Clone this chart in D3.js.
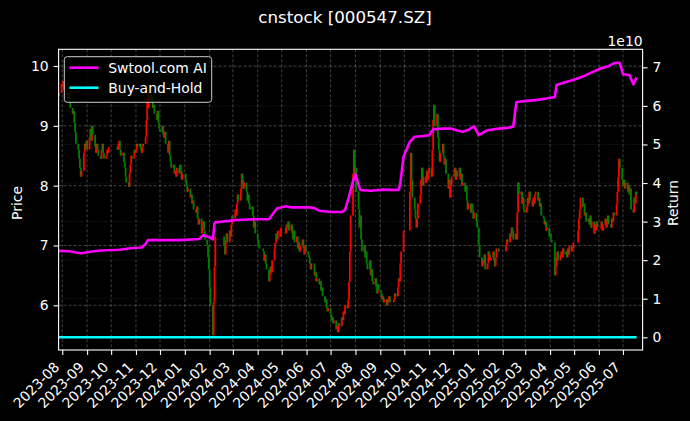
<!DOCTYPE html>
<html><head><meta charset="utf-8">
<script src="https://cdn.jsdelivr.net/npm/d3@7"></script>
<style>html,body{margin:0;padding:0;background:#000;} svg{display:block;}</style>
</head><body>
<svg id="chart" width="690" height="421"></svg>
<script>
// ---------------- DATA ----------------
const chartTitle = "cnstock [000547.SZ]";
const seriesNames = ["Swtool.com AI", "Buy-and-Hold"];
const axisLabels = ["Price", "Return"];
const firstDay = "2023-07-28", lastDay = "2025-07-18";
const holidays = [
  "2023-09-29","2023-10-02","2023-10-03","2023-10-04","2023-10-05","2023-10-06",
  "2024-01-01","2024-02-09","2024-02-12","2024-02-13","2024-02-14","2024-02-15","2024-02-16",
  "2024-04-04","2024-04-05","2024-05-01","2024-05-02","2024-05-03","2024-06-10",
  "2024-09-16","2024-09-17","2024-10-01","2024-10-02","2024-10-03","2024-10-04","2024-10-07",
  "2025-01-01","2025-01-28","2025-01-29","2025-01-30","2025-01-31","2025-02-03","2025-02-04",
  "2025-04-04","2025-05-01","2025-05-02","2025-05-05","2025-06-02"
];
const firstOpen = 9.50;
// daily closes, one trading day each
const closes = [
  // 2023-07
  9.55, 9.70,
  // 2023-08
  9.65, 9.75, 9.60, 9.55, 9.50, 9.45, 9.55, 9.40, 9.30, 9.20, 9.25, 9.05, 8.90, 8.70, 8.60, 8.45, 8.30, 8.15, 8.25, 8.55, 8.70, 8.60, 8.75,
  // 2023-09
  8.60, 8.80, 8.95, 8.75, 9.00, 8.85, 8.65, 8.55, 8.70, 8.60, 8.50, 8.45, 8.60, 8.70, 8.55, 8.45, 8.50, 8.60, 8.55, 8.65,
  // 2023-10
  8.60, 8.70, 8.75, 8.60, 8.50, 8.55, 8.40, 8.30, 8.15, 8.05, 7.98, 8.20, 8.35, 8.50, 8.45, 8.60, 8.55,
  // 2023-11
  8.60, 8.70, 8.65, 8.70, 8.60, 8.55, 8.65, 8.70, 8.80, 9.10, 9.45, 9.30, 9.55, 9.40, 9.50, 9.30, 9.35, 9.20, 9.10, 9.25, 9.05, 8.95,
  // 2023-12
  8.90, 9.00, 8.85, 8.80, 8.90, 8.70, 8.55, 8.75, 8.50, 8.40, 8.30, 8.35, 8.20, 8.25, 8.15, 8.30, 8.20, 8.35, 8.25, 8.10, 8.20,
  // 2024-01
  8.10, 8.00, 7.90, 7.95, 7.80, 7.85, 7.70, 7.75, 7.60, 7.55, 7.65, 7.45, 7.35, 7.45, 7.20, 7.30, 7.40, 7.25, 7.10, 7.00, 6.80, 6.60,
  // 2024-02
  6.30, 6.00, 5.50, 6.05, 6.65, 7.15, 7.00, 6.85, 7.10, 7.20, 7.05, 7.25, 7.15, 7.35, 7.50,
  // 2024-03
  7.45, 7.60, 7.50, 7.70, 7.85, 7.75, 7.95, 8.20, 8.10, 7.95, 8.05, 7.90, 7.75, 7.85, 7.70, 7.60, 7.65, 7.50, 7.30, 7.40, 7.20,
  // 2024-04
  7.10, 7.00, 6.95, 6.90, 6.75, 6.85, 6.70, 6.60, 6.40, 6.50, 6.65, 6.55, 6.75, 6.95, 7.05, 7.20, 7.10, 7.25, 7.15, 7.30,
  // 2024-05
  7.20, 7.35, 7.30, 7.40, 7.25, 7.35, 7.20, 7.10, 7.25, 7.05, 7.15, 6.95, 7.05, 6.90, 7.00, 7.10, 6.95, 6.85, 7.00, 6.90,
  // 2024-06
  6.85, 6.80, 6.70, 6.60, 6.70, 6.50, 6.55, 6.40, 6.45, 6.35, 6.40, 6.25, 6.30, 6.15, 6.05, 6.10, 5.95, 5.90, 5.95,
  // 2024-07
  5.85, 5.75, 5.80, 5.70, 5.75, 5.60, 5.65, 5.55, 5.70, 5.65, 5.80, 5.75, 5.90, 5.85, 6.00, 5.95, 6.10, 6.40, 6.90, 7.50, 8.20, 8.60, 8.10,
  // 2024-08
  8.30, 7.90, 7.60, 7.30, 7.50, 7.10, 6.90, 7.00, 6.80, 6.90, 6.70, 6.60, 6.75, 6.50, 6.60, 6.40, 6.35, 6.45, 6.30, 6.20, 6.35, 6.25,
  // 2024-09
  6.20, 6.10, 6.15, 6.05, 6.10, 6.00, 6.10, 6.05, 6.15, 6.05, 6.10, 6.20, 6.15, 6.30, 6.45, 6.40, 6.70, 6.90, 7.25,
  // 2024-10
  7.90, 8.55, 8.10, 7.80, 7.60, 7.45, 7.30, 7.45, 7.70, 7.85, 8.10, 8.30, 8.00, 8.15, 8.05, 8.25, 8.10, 8.20,
  // 2024-11
  8.30, 8.15, 8.60, 9.10, 9.35, 9.00, 9.20, 8.80, 8.60, 8.40, 8.55, 8.70, 8.50, 8.35, 8.45, 8.20, 7.95, 8.10, 7.80, 8.00, 8.15,
  // 2024-12
  8.20, 8.30, 8.10, 8.25, 8.15, 8.30, 8.10, 8.20, 8.00, 8.05, 7.90, 8.00, 7.75, 7.60, 7.70, 7.55, 7.70, 7.60, 7.45, 7.55, 7.40, 7.30,
  // 2025-01
  7.00, 6.80, 6.65, 6.75, 6.70, 6.85, 6.60, 6.70, 6.90, 6.85, 6.75, 6.80, 6.90, 6.75, 6.65, 6.80, 6.95, 6.90,
  // 2025-02
  7.00, 7.10, 7.05, 7.20, 7.15, 7.30, 7.25, 7.10, 7.20, 7.10, 7.55, 8.05, 7.85, 7.90, 7.70, 7.80, 7.60, 7.55,
  // 2025-03
  7.65, 7.80, 7.70, 7.90, 7.75, 7.65, 7.80, 7.70, 7.85, 7.90, 7.75, 7.80, 7.65, 7.70, 7.50, 7.45, 7.35, 7.40, 7.25, 7.30, 7.15,
  // 2025-04
  7.20, 7.10, 7.05, 6.50, 6.65, 6.80, 6.90, 6.75, 6.85, 6.90, 6.80, 6.95, 6.85, 6.90, 6.80, 6.95, 6.85, 7.00, 6.90, 6.95, 7.05,
  // 2025-05
  7.25, 7.45, 7.60, 7.80, 7.65, 7.70, 7.50, 7.55, 7.40, 7.45, 7.35, 7.50, 7.30, 7.40, 7.20, 7.35, 7.25, 7.40, 7.30,
  // 2025-06
  7.30, 7.40, 7.25, 7.35, 7.45, 7.30, 7.40, 7.50, 7.35, 7.30, 7.45, 7.40, 7.55, 7.50, 7.70, 7.90, 8.15, 8.45, 8.30, 8.10,
  // 2025-07
  8.00, 8.10, 7.95, 8.05, 7.90, 8.00, 7.85, 7.95, 7.60, 7.55, 7.80, 7.70, 7.90, 7.85
];
// Swtool.com AI equity (raw units, axis shows 1e10)
const stratDates = [
  "2023-07-28","2023-08-10","2023-08-18","2023-08-25","2023-09-05","2023-09-18","2023-10-12","2023-10-25",
  "2023-11-08","2023-11-13","2023-11-16","2023-12-01","2023-12-26","2024-01-19","2024-01-24","2024-02-01",
  "2024-02-05","2024-02-07","2024-02-08","2024-03-06","2024-03-29","2024-04-15","2024-04-19","2024-04-25",
  "2024-05-06","2024-05-13","2024-06-03","2024-06-11","2024-06-17","2024-07-01","2024-07-15","2024-07-19",
  "2024-07-24","2024-07-29","2024-08-01","2024-08-05","2024-08-07","2024-08-20","2024-09-05","2024-09-24",
  "2024-09-26","2024-09-30","2024-10-08","2024-10-14","2024-10-25","2024-11-01","2024-11-06","2024-11-18",
  "2024-11-29","2024-12-06","2024-12-13","2024-12-20","2024-12-27","2025-01-02","2025-01-13","2025-01-27",
  "2025-02-07","2025-02-14","2025-02-18","2025-03-03","2025-03-14","2025-03-27","2025-04-07","2025-04-09",
  "2025-04-21","2025-04-30","2025-05-12","2025-05-21","2025-06-03","2025-06-13","2025-06-20","2025-06-27",
  "2025-07-01","2025-07-09","2025-07-14","2025-07-18"
];
const stratValues = [
  2.24e10,2.23e10,2.20e10,2.18e10,2.22e10,2.25e10,2.27e10,2.31e10,
  2.33e10,2.42e10,2.52e10,2.52e10,2.52e10,2.55e10,2.65e10,2.59e10,
  2.54e10,2.95e10,2.98e10,3.04e10,3.06e10,3.06e10,3.17e10,3.34e10,
  3.40e10,3.37e10,3.37e10,3.35e10,3.28e10,3.25e10,3.25e10,3.30e10,
  3.65e10,4.05e10,4.22e10,3.95e10,3.82e10,3.80e10,3.83e10,3.82e10,
  3.99e10,4.68e10,5.07e10,5.20e10,5.22e10,5.24e10,5.39e10,5.41e10,
  5.41e10,5.36e10,5.33e10,5.38e10,5.47e10,5.24e10,5.37e10,5.41e10,
  5.43e10,5.46e10,6.10e10,6.13e10,6.15e10,6.19e10,6.23e10,6.54e10,
  6.62e10,6.67e10,6.76e10,6.85e10,6.97e10,7.03e10,7.11e10,7.12e10,
  6.82e10,6.80e10,6.56e10,6.74e10
];
// Buy-and-Hold equity (raw units, ~0 on the 1e10 scale)
const bhDates = ["2023-07-28","2023-10-31","2024-01-31","2024-04-30","2024-07-31","2024-10-31","2025-01-27","2025-04-30","2025-07-18"];
const bhValues = [1.00, 0.90, 0.69, 0.76, 0.85, 0.86, 0.72, 0.74, 0.82];
const priceTicks = [6, 7, 8, 9, 10];
const returnTicks = [0, 1, 2, 3, 4, 5, 6, 7];
const returnTickLabels = ["0", "1", "2", "3", "4", "5", "6", "7"];
const offsetLabel = "1e10";
const priceDomain = [5.253, 10.279];
const returnDomain = [-0.329e10, 7.467e10];
const xDomainDates = ["2023-07-27T10:00", "2025-07-25T12:00"];

// ---------------- LAYOUT ----------------
const L = 58.6, R = 642.6, T = 49.3, B = 350;
const FONT = "DejaVu Sans, Liberation Sans, sans-serif";
const svg = d3.select("#chart").style("background", "#000").attr("font-family", FONT);
svg.append("rect").attr("width", 690).attr("height", 421).attr("fill", "#000");

const parse = d3.utcParse("%Y-%m-%d");
const parseT = d3.utcParse("%Y-%m-%dT%H:%M");
const fmtDay = d3.utcFormat("%Y-%m-%d");
const hol = new Set(holidays);
const days = d3.utcDay.range(parse(firstDay), d3.utcDay.offset(parse(lastDay), 1))
  .filter(d => d.getUTCDay() !== 0 && d.getUTCDay() !== 6 && !hol.has(fmtDay(d)));
const n = Math.min(days.length, closes.length);

const candles = d3.range(n).map(i => ({
  date: days[i], open: i === 0 ? firstOpen : closes[i - 1], close: closes[i]
}));

const x = d3.scaleUtc().domain(xDomainDates.map(parseT)).range([L, R]);
const yP = d3.scaleLinear().domain(priceDomain).range([B, T]);
const yR = d3.scaleLinear().domain(returnDomain).range([B, T]);

const monthTicks = d3.utcMonth.range(parse("2023-08-01"), parse("2025-07-02"));

svg.append("defs").append("clipPath").attr("id", "clip")
  .append("rect").attr("x", L).attr("y", T).attr("width", R - L).attr("height", B - T);

// grid
const grid = svg.append("g");
grid.selectAll("line.gx").data(monthTicks).join("line")
  .attr("x1", d => x(d)).attr("x2", d => x(d)).attr("y1", T).attr("y2", B)
  .attr("stroke", "#fff").attr("stroke-opacity", 0.32).attr("stroke-width", 0.8)
  .attr("stroke-dasharray", "3,2");
grid.selectAll("line.gy").data(priceTicks).join("line")
  .attr("x1", L).attr("x2", R).attr("y1", d => yP(d)).attr("y2", d => yP(d))
  .attr("stroke", "#fff").attr("stroke-opacity", 0.32).attr("stroke-width", 0.8)
  .attr("stroke-dasharray", "3,2");

// candles
const plot = svg.append("g").attr("clip-path", "url(#clip)");
plot.selectAll("rect.c").data(candles).join("rect")
  .attr("x", d => x(d.date) - 0.9)
  .attr("width", 1.8)
  .attr("y", d => yP(Math.max(d.open, d.close)))
  .attr("height", d => Math.max(1, Math.abs(yP(d.open) - yP(d.close))))
  .attr("fill", d => d.close >= d.open ? "#ff0000" : "#008000");

// right-axis grid (drawn on twin axes)
svg.append("g").selectAll("line").data(returnTicks).join("line")
  .attr("x1", L).attr("x2", R).attr("y1", d => yR(d * 1e10)).attr("y2", d => yR(d * 1e10))
  .attr("stroke", "#fff").attr("stroke-opacity", 0.2).attr("stroke-width", 0.8)
  .attr("stroke-dasharray", "1,2");

// lines
const strat = stratDates.map((d, i) => ({ date: parse(d), v: stratValues[i] }));
const bh = bhDates.map((d, i) => ({ date: parse(d), v: bhValues[i] }));
const line = d3.line().x(d => x(d.date)).y(d => yR(d.v));
plot.append("path").datum(strat).attr("d", line).attr("fill", "none")
  .attr("stroke", "#ff00ff").attr("stroke-width", 2.6).attr("stroke-linejoin", "round");
plot.append("path").datum(bh).attr("d", line).attr("fill", "none")
  .attr("stroke", "#00ffff").attr("stroke-width", 2.6);

// frame
svg.append("rect").attr("x", L).attr("y", T).attr("width", R - L).attr("height", B - T)
  .attr("fill", "none").attr("stroke", "#fff").attr("stroke-width", 1.1);

// axes
const axL = d3.axisLeft(yP).tickValues(priceTicks).tickSize(5).tickPadding(5).tickFormat(d3.format("d"));
const axR = d3.axisRight(yR).tickValues(returnTicks.map(d => d * 1e10)).tickSize(5).tickPadding(5)
  .tickFormat((d, i) => returnTickLabels[i]);
const axB = d3.axisBottom(x).tickValues(monthTicks).tickSize(5).tickFormat(d3.utcFormat("%Y-%m"));

function style(g) {
  g.select(".domain").remove();
  g.selectAll(".tick line").attr("stroke", "#fff").attr("stroke-width", 1.1);
  g.selectAll(".tick text").attr("fill", "#fff").attr("font-size", "13.9px").attr("font-family", FONT);
}
svg.append("g").attr("transform", `translate(${L},0)`).call(axL).call(style);
svg.append("g").attr("transform", `translate(${R},0)`).call(axR).call(style);
const gB = svg.append("g").attr("transform", `translate(0,${B})`).call(axB).call(style);
gB.selectAll(".tick text")
  .attr("text-anchor", "end").attr("dy", null).attr("y", null)
  .attr("transform", "translate(-2.5,18) rotate(-45)");

// labels
svg.append("text").attr("x", 345).attr("y", 23).attr("text-anchor", "middle")
  .attr("fill", "#fff").attr("font-size", "16.7px").text(chartTitle);
svg.append("text").attr("x", R).attr("y", 46).attr("text-anchor", "end")
  .attr("fill", "#fff").attr("font-size", "13.9px").text(offsetLabel);
svg.append("text").attr("transform", "translate(21.5,203) rotate(-90)").attr("text-anchor", "middle")
  .attr("fill", "#fff").attr("font-size", "13.9px").text(axisLabels[0]);
svg.append("text").attr("transform", "translate(677.5,203) rotate(-90)").attr("text-anchor", "middle")
  .attr("fill", "#fff").attr("font-size", "13.9px").text(axisLabels[1]);

// legend
const lg = svg.append("g");
lg.append("rect").attr("x", 64.3).attr("y", 56.7).attr("width", 147.4).attr("height", 45.6)
  .attr("rx", 3).attr("fill", "#000").attr("fill-opacity", 0.8)
  .attr("stroke", "#cccccc").attr("stroke-width", 1);
const lcolors = ["#ff00ff", "#00ffff"];
seriesNames.forEach((s, i) => {
  const yy = 67.7 + i * 20;
  lg.append("line").attr("x1", 69.5).attr("x2", 98.5).attr("y1", yy).attr("y2", yy)
    .attr("stroke", lcolors[i]).attr("stroke-width", 2.6);
  lg.append("text").attr("x", 108.3).attr("y", yy + 5.1).attr("fill", "#fff")
    .attr("font-size", "13.9px").text(s);
});
</script>
</body></html>
